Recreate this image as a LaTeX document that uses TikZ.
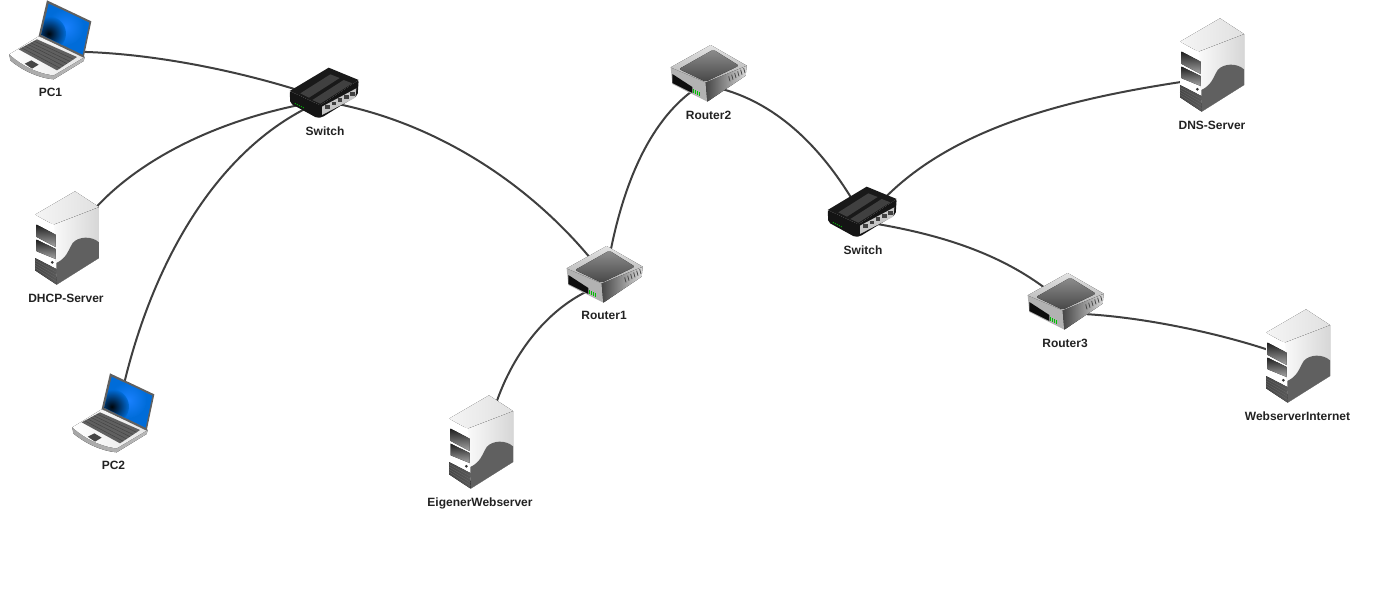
\documentclass[tikz,border=0pt]{standalone}
\usepackage{fontspec}
\setmainfont{Liberation Sans}
\usetikzlibrary{calc}
\definecolor{wire}{HTML}{3F3F3F}
\definecolor{lbl}{HTML}{222222}
\tikzset{
  x=1pt,y=-1pt,
  devbox/.style={inner sep=0pt,outer sep=0pt,rectangle},
  lapbox/.style={devbox,minimum width=60pt,minimum height=50pt},
  swbox/.style={devbox,minimum width=40pt,minimum height=24pt},
  srvbox/.style={devbox,minimum width=50pt,minimum height=70pt},
  rtbox/.style={devbox,minimum width=44pt,minimum height=30pt},
  devlabel/.style={font=\bfseries\fontsize{12}{14}\selectfont,text=lbl,inner sep=0pt},
  wireline/.style={draw=wire,line width=2pt},
  pics/laptop/.style={code={
    \begin{scope}[scale=0.3333,shift={(-135,-141)}]
      % base
      \fill[left color=gray!70,right color=gray!55] (22,187) -- (25,205) .. controls (60,235) and (110,258) .. (155,262) -- (245,207) -- (248,195) -- cycle;
      \fill[left color=white,right color=gray!20] (110,133) -- (22,187) .. controls (60,222) and (110,245) .. (155,250) -- (248,195) -- cycle;
      % keyboard
      \fill[gray!75!black] (105,142) -- (50,172) -- (165,235) -- (225,195) -- cycle;
      \foreach \t in {0.17,0.34,0.5,0.67,0.84}
        \draw[gray!50!black,line width=.4pt] ($(105,142)!\t!(50,172)$) -- ($(225,195)!\t!(165,235)$);
      % touchpad
      \fill[gray!55!black] (88,205) -- (68,215) -- (90,230) -- (110,218) -- cycle;
      % lid
      \fill[gray!75!black] (135,25) -- (268,88) -- (245,197) -- (110,132) -- cycle;
      \begin{scope}
        \clip (140,35) -- (262,92) -- (242,188) -- (118,128) -- cycle;
        \fill[blue!50!cyan!85!black] (100,20) rectangle (280,200);
        \shade[inner color=cyan!45!blue!90!white,outer color=blue!50!cyan!85!black] (190,105) circle[radius=55];
        \shade[inner color=black,outer color=blue!50!cyan!85!black,opacity=.95] (140,125) circle[radius=52];
      \end{scope}
    \end{scope}
  }},
  pics/netswitch/.style={code={
    \begin{scope}[scale=0.3333,shift={(-141,-108)}]
      \fill[black!92,rounded corners=2pt] (38,105) -- (40,142) -- (120,186) -- (135,184) -- (242,118) -- (245,72) -- (130,148) -- cycle;
      \fill[black!90] (38,105) -- (155,35) -- (245,72) -- (130,148) -- cycle;
      \fill[black!75] (70,112) -- (160,55) -- (188,66) -- (96,125) -- cycle;
      \fill[black!75] (106,132) -- (200,72) -- (226,82) -- (130,143) -- cycle;
      \fill[gray!45] (135,152) -- (238,97) -- (235,125) -- (135,177) -- cycle;
      \foreach \i in {0,1,2,3,4}
        \fill[black!75] ($(145,147)+(\i*18.5,-\i*9.8)$) rectangle ++(14,11);
      \foreach \i in {0,1,2,3,4}
        \fill[green!70!black] ($(55,143)+(\i*6,\i*3)$) circle[radius=2.2];
    \end{scope}
  }},
  pics/server/.style={code={
    \begin{scope}[scale=0.3333,shift={(-123,-165)}]
      % right side
      \fill[left color=gray!4,right color=gray!32] (85,125) -- (222,72) -- (222,225) -- (95,305) -- cycle;
      % top
      \fill[left color=gray!8,right color=gray!24] (30,95) -- (150,25) -- (222,72) -- (85,125) -- cycle;
      % front
      \fill[white] (30,95) .. controls (50,110) and (70,120) .. (88,125) -- (95,305) -- (30,262) -- cycle;
      % blob
      \fill[gray!75!black] (222,178) .. controls (200,158) and (160,160) .. (143,180) .. controls (128,205) and (125,225) .. (94,240) -- (95,305) -- (222,225) -- cycle;
      % base
      \fill[left color=gray!55!black,right color=gray!70!black] (30,225) -- (94,258) -- (95,305) -- (30,262) -- cycle;
      \foreach \t in {0.2,0.4,0.6,0.8}
        \draw[gray!80!black,line width=.4pt] ($(30,225)!\t!(30,262)$) -- ($(94,258)!\t!(95,305)$);
      % bays
      \fill[top color=black!88,bottom color=gray!70] (35,125) -- (92,155) -- (92,192) -- (35,162) -- cycle;
      \fill[top color=black!88,bottom color=gray!70] (35,170) -- (92,198) -- (92,228) -- (35,205) -- cycle;
      \fill[black!80] (82,238) circle[radius=4.5];
    \end{scope}
  }},
  pics/router/.style={code={
    \begin{scope}[scale=0.3333,shift={(-150,-111)}]
      % left side
      \fill[gray!60] (38,91) -- (43,141) -- (148,194) -- (143,136) -- cycle;
      % right side
      \fill[left color=gray!55!black,right color=gray!28] (143,136) -- (148,194) -- (263,116) -- (266,86) -- cycle;
      % top
      \fill[top color=gray!22,bottom color=gray!62] (38,91) -- (158,24) -- (266,86) -- (143,136) -- cycle;
      \fill[top color=black!45,bottom color=black!72,rounded corners=2pt] (63,96) -- (166,38) -- (243,86) -- (143,134) -- cycle;
      % slot
      \fill[black!95] (43,111) -- (103,150) -- (103,168) -- (43,138) -- cycle;
      \foreach \i in {0,1,2,3}
        \draw[#1,line width=.9pt] ($(106,157)+(\i*6.5,\i*2.5)$) -- ++(0,11);
      \foreach \i in {0,1,2,3,4,5}
        \draw[black!72,line width=.8pt] ($(212,118)+(\i*9,-\i*5)$) -- ++(4,15);
    \end{scope}
  }}
}
\begin{document}
\begin{tikzpicture}
\useasboundingbox (0,0) rectangle (1374,595);
% named device boxes
\node[lapbox] (pc1) at (47,39) {};
\node[lapbox] (pc2) at (110,412) {};
\node[swbox]  (sw1) at (324,92) {};
\node[swbox]  (sw2) at (862,211) {};
\node[srvbox] (dhcp) at (66,238) {};
\node[srvbox] (eig) at (480,442) {};
\node[srvbox] (dns) at (1211,65) {};
\node[srvbox] (ws) at (1297,356) {};
\node[rtbox]  (r1) at (604,275) {};
\node[rtbox]  (r2) at (708,74) {};
\node[rtbox]  (r3) at (1065,302) {};
% connectors
\draw[wireline] (pc1.-23) .. controls (150,53) and (235,70) .. (sw1.180);
\draw[wireline] (dhcp.45) .. controls (135,162) and (212,122) .. (sw1.211);
\draw[wireline] (pc2.62) .. controls (152,265) and (215,150) .. (sw1.233);
\draw[wireline] (sw1.-41) .. controls (440,125) and (530,185) .. (r1.129);
\draw[wireline] (r1.72) .. controls (622,188) and (648,122) .. (r2.229);
\draw[wireline] (r1.227) .. controls (552,307) and (514,348) .. (eig.67);
\draw[wireline] (r2.-47) .. controls (780,105) and (822,150) .. (sw2.130);
\draw[wireline] (sw2.27) .. controls (950,130) and (1060,100) .. (dns.213);
\draw[wireline] (sw2.-53) .. controls (945,235) and (1000,255) .. (r3.145);
\draw[wireline] (r3.-29) .. controls (1150,318) and (1225,335) .. (ws.169);
% icons
\pic at (pc1) {laptop};
\pic at (pc2) {laptop};
\pic at (sw1) {netswitch};
\pic at (sw2) {netswitch};
\pic at (dhcp) {server};
\pic at (eig) {server};
\pic at (dns) {server};
\pic at (ws) {server};
\pic at (r1) {router=green!75!black};
\pic at (r2) {router=green!75!black};
\pic at (r3) {router=green!75!black};
% labels
\node[devlabel] (lpc1) at (50.5,92.5) {PC1};
\node[devlabel] (lsw1) at (325,131.5) {Switch};
\node[devlabel] (ldhcp) at (66,298.5) {DHCP-Server};
\node[devlabel] (lpc2) at (113.5,465.5) {PC2};
\node[devlabel] (lr1) at (604,315.5) {Router1};
\node[devlabel] (lr2) at (708.5,115.5) {Router2};
\node[devlabel] (lsw2) at (863,250.5) {Switch};
\node[devlabel] (lr3) at (1065,343.5) {Router3};
\node[devlabel] (ldns) at (1212,125.5) {DNS-Server};
\node[devlabel] (lws) at (1297.5,416.5) {WebserverInternet};
\node[devlabel] (leig) at (480,503) {EigenerWebserver};
\end{tikzpicture}
\end{document}
